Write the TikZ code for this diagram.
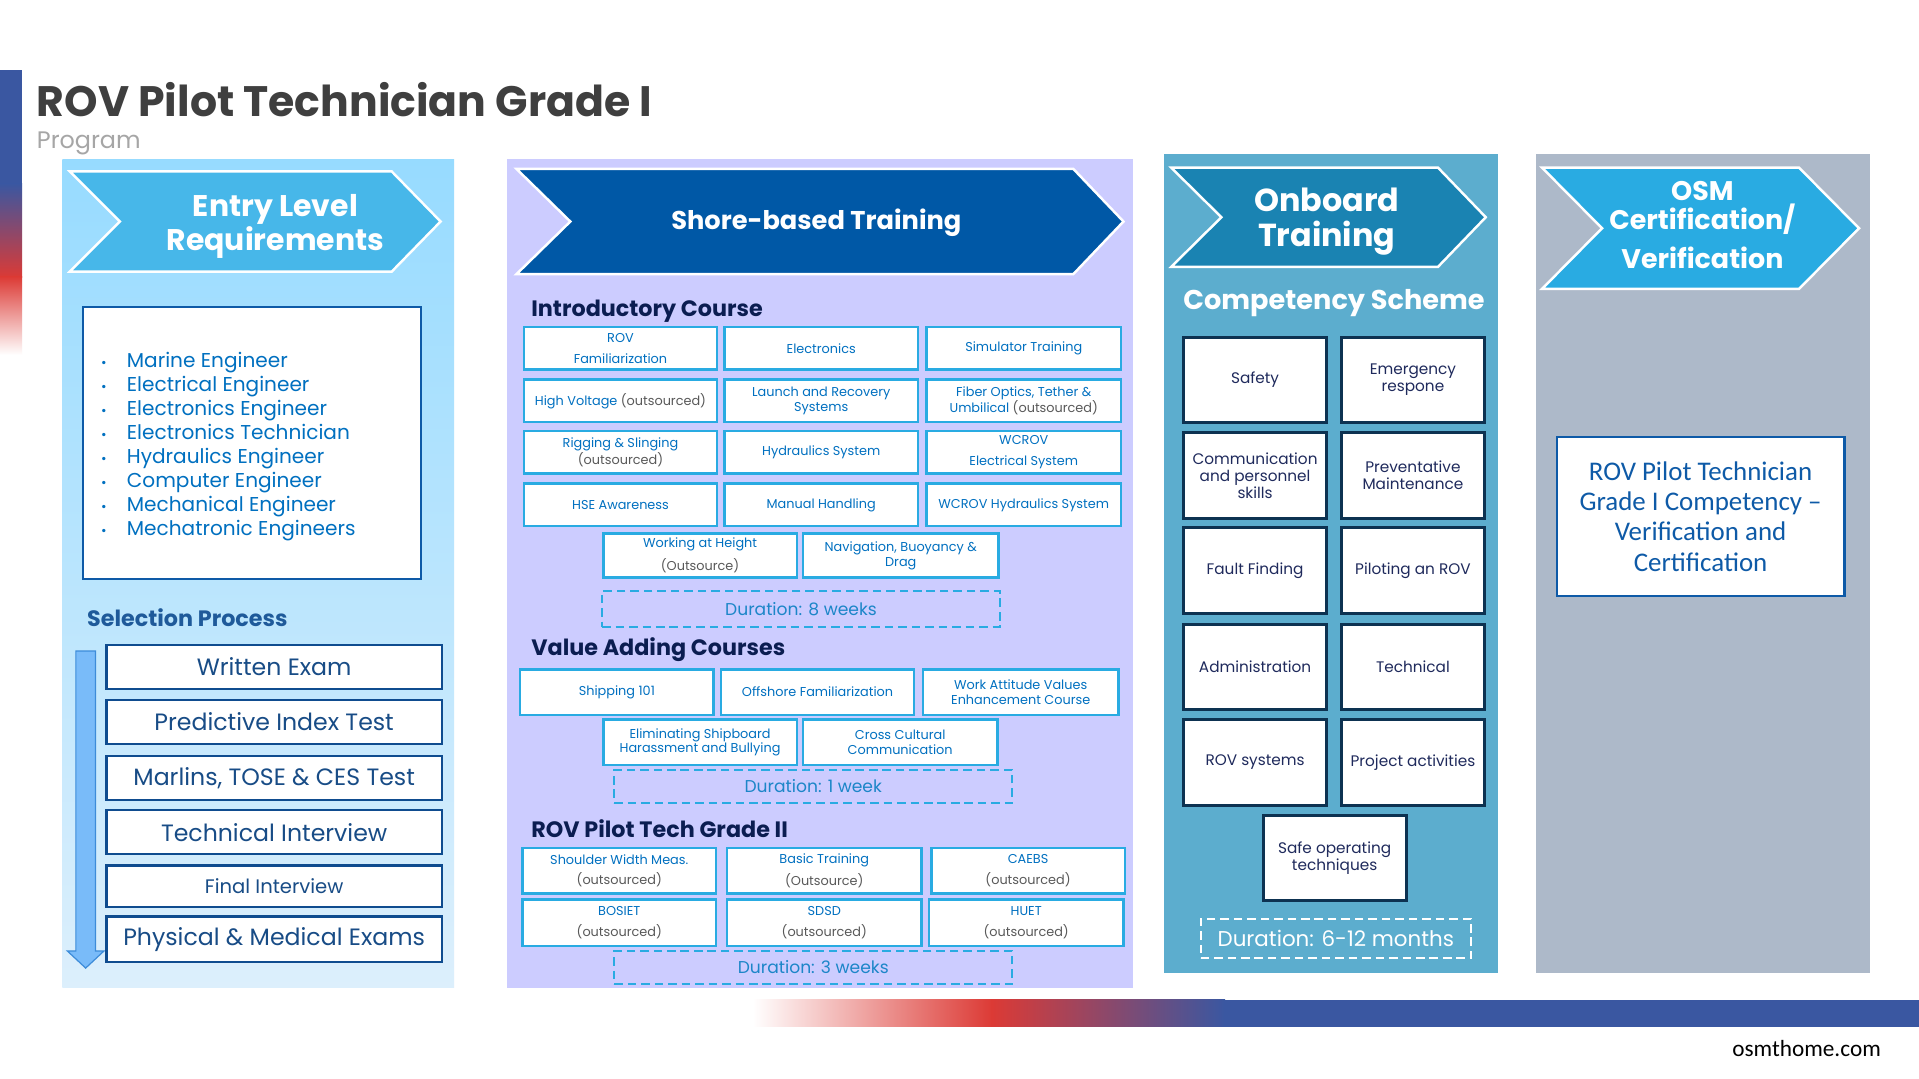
\documentclass[tikz,border=0pt]{standalone}
\usepackage{fontspec}
\setmainfont{Poppins}
\newfontfamily\calib{Carlito}
\definecolor{stripeblue}{HTML}{3A57A1}
\definecolor{stripered}{HTML}{DC3A35}
\definecolor{titlec}{HTML}{3F3F3F}
\definecolor{progc}{HTML}{A6A6A6}
\definecolor{ponetop}{HTML}{97DBFF}
\definecolor{ponebot}{HTML}{DCEFFC}
\definecolor{cone}{HTML}{47B7E9}
\definecolor{ptwo}{HTML}{CCCCFF}
\definecolor{ctwo}{HTML}{0058A6}
\definecolor{pthree}{HTML}{5CADCE}
\definecolor{cthree}{HTML}{1A83B2}
\definecolor{pfour}{HTML}{ADB9C9}
\definecolor{cfour}{HTML}{29ABE2}
\definecolor{sbord}{HTML}{29ABE2}
\definecolor{stext}{HTML}{0070C0}
\definecolor{sgray}{HTML}{595959}
\definecolor{durtext}{HTML}{1C86C8}
\definecolor{headc}{HTML}{0B1D51}
\definecolor{cbord}{HTML}{0D3251}
\definecolor{ctext}{HTML}{1F2A5C}
\definecolor{selbord}{HTML}{0F4C8F}
\definecolor{seltext}{HTML}{184C86}
\definecolor{entbord}{HTML}{0E5AA7}
\definecolor{listc}{HTML}{0070C0}
\definecolor{selhead}{HTML}{1F5A9A}
\definecolor{arrfill}{HTML}{79BBF9}
\definecolor{arrbord}{HTML}{3D8CD9}
\newcommand\myfs[2]{\fontsize{#1}{#2}\selectfont}
\newcommand\gr[1]{{\color{sgray}#1}}
\begin{document}
\begin{tikzpicture}[x=1pt,y=-1pt,
  sbox/.style={draw=sbord,line width=2pt,fill=white,text=stext,font=\myfs{10.5}{12},align=center,inner sep=0pt,minimum width=158pt,minimum height=35pt},
  dbox/.style={draw=sbord,line width=1.8pt,dash pattern=on 7pt off 4pt,align=center,inner sep=0pt,text=durtext,font=\myfs{14}{16}},
  cbox/.style={draw=cbord,line width=2.5pt,fill=white,text=ctext,font=\myfs{12.5}{14},align=center,inner sep=0pt,minimum width=117pt,minimum height=70pt},
  selbox/.style={draw=selbord,line width=2pt,fill=white,text=seltext,font=\myfs{19.3}{22},inner sep=0pt,minimum width=274pt,minimum height=36pt},
  chev/.style={draw=white,line width=2pt},
  head/.style={anchor=west,text=headc,font=\bfseries\myfs{18.2}{22},inner sep=0pt},
  ctitle/.style={text=white,font=\bfseries\myfs{24.4}{28},align=center,inner sep=0pt},
]
\useasboundingbox (0,0) rectangle (1568,881.6);
\fill[white] (0,0) rectangle (1568,881.6);

% left stripe
\fill[stripeblue] (0,57) rectangle (18,151);
\shade[top color=stripeblue,bottom color=stripered] (0,150) rectangle (18,227);
\shade[top color=stripered,bottom color=white] (0,226) rectangle (18,290);

% bottom bar
\shade[left color=white,right color=stripered] (615,817) rectangle (811,839);
\shade[left color=stripered,right color=stripeblue] (810,817) rectangle (1001,839);
\fill[stripeblue] (1000,817) rectangle (1568,839);

% title
\node[anchor=base west,inner sep=0pt,text=titlec,font=\bfseries\myfs{34.8}{40}] (title) at (30,95) {ROV Pilot Technician Grade I};
\node[anchor=base west,inner sep=0pt,text=progc,font=\myfs{19.5}{22}] (prog) at (30,121) {Program};
\node[anchor=base east,inner sep=0pt,text=black,font=\calib\myfs{19}{22}] (web) at (1537,863) {osmthome.com};

% ---------------- column 1
\shade[top color=ponetop,bottom color=ponebot] (51,130) rectangle (371,807);
\filldraw[fill=cone,chev] (57,140) -- (320,140) -- (360,181) -- (320,222) -- (57,222) -- (98,181) -- cycle;
\node[ctitle] (c1t) at (225,185) {Entry Level\\Requirements};
\node[draw=entbord,line width=2pt,fill=white,minimum width=276pt,minimum height=222pt,inner sep=0pt] (entry) at (206,362) {};
\node[anchor=west,inner sep=0pt,text=listc,font=\myfs{16.4}{19.7}] (list) at (82.5,365) {\begin{tabular}{@{}l@{\hspace{16.5pt}}l@{}}
{\myfs{11}{19.7}•} & Marine Engineer\\
{\myfs{11}{19.7}•} & Electrical Engineer\\
{\myfs{11}{19.7}•} & Electronics Engineer\\
{\myfs{11}{19.7}•} & Electronics Technician\\
{\myfs{11}{19.7}•} & Hydraulics Engineer\\
{\myfs{11}{19.7}•} & Computer Engineer\\
{\myfs{11}{19.7}•} & Mechanical Engineer\\
{\myfs{11}{19.7}•} & Mechatronic Engineers
\end{tabular}};
\node[anchor=west,inner sep=0pt,text=selhead,font=\bfseries\myfs{18.2}{20}] (selh) at (71,505) {Selection Process};
\filldraw[fill=arrfill,draw=arrbord,line width=1pt] (62,532) -- (78,532) -- (78,777) -- (85,777) -- (70,791) -- (55,777) -- (62,777) -- cycle;
\node[selbox] (s1) at (224,545) {Written Exam};
\node[selbox] (s2) at (224,590) {Predictive Index Test};
\node[selbox] (s3) at (224,635.5) {Marlins, TOSE \& CES Test};
\node[selbox] (s4) at (224,680) {Technical Interview};
\node[selbox,minimum height=34pt,font=\myfs{16}{18}] (s5) at (224,724) {Final Interview};
\node[selbox,minimum height=37pt] (s6) at (224,767.5) {Physical \& Medical Exams};

% ---------------- column 2
\fill[ptwo] (414,130) rectangle (926,807);
\filldraw[fill=ctwo,chev] (422,138) -- (877,138) -- (918,181) -- (877,224) -- (422,224) -- (466,181) -- cycle;
\node[ctitle,font=\bfseries\myfs{21}{24}] (c2t) at (667,182) {Shore-based Training};

\node[head] (h1) at (434,254) {Introductory Course};
\node[sbox] (i11) at (507,284.5) {ROV\\[5pt]Familiarization};
\node[sbox] (i12) at (671,284.5) {Electronics};
\node[sbox,minimum width=159pt] (i13) at (836.5,284.5) {Simulator Training};
\node[sbox] (i21) at (507,327.5) {High Voltage \gr{(outsourced)}};
\node[sbox] (i22) at (671,327.5) {Launch and Recovery\\Systems};
\node[sbox,minimum width=159pt] (i23) at (836.5,327.5) {Fiber Optics, Tether \&\\Umbilical \gr{(outsourced)}};
\node[sbox] (i31) at (507,369.5) {Rigging \& Slinging\\\gr{(outsourced)}};
\node[sbox] (i32) at (671,369.5) {Hydraulics System};
\node[sbox,minimum width=159pt] (i33) at (836.5,369.5) {WCROV\\[5pt]Electrical System};
\node[sbox] (i41) at (507,412.5) {HSE Awareness};
\node[sbox] (i42) at (671,412.5) {Manual Handling};
\node[sbox,minimum width=159pt] (i43) at (836.5,412.5) {WCROV Hydraulics System};
\node[sbox,minimum height=36pt] (i51) at (572,454) {Working at Height\\[5pt]\gr{(Outsource)}};
\node[sbox,minimum height=36pt,minimum width=160pt] (i52) at (736,454) {Navigation, Buoyancy \&\\Drag};
\node[dbox,minimum width=325pt,minimum height=29pt] (d1) at (654.5,497.5) {Duration: 8 weeks};

\node[head] (h2) at (434,531) {Value Adding Courses};
\node[sbox,minimum height=37pt] (v11) at (504,565.5) {Shipping 101};
\node[sbox,minimum height=37pt] (v12) at (668,565.5) {Offshore Familiarization};
\node[sbox,minimum height=37pt,minimum width=160pt] (v13) at (834,565.5) {Work Attitude Values\\Enhancement Course};
\node[sbox,minimum height=37pt] (v21) at (572,606.5) {Eliminating Shipboard\\Harassment and Bullying};
\node[sbox,minimum height=37pt,minimum width=159pt] (v22) at (735.5,606.5) {Cross Cultural\\Communication};
\node[dbox,minimum width=325pt,minimum height=27pt] (d2) at (664.5,642.5) {Duration: 1 week};

\node[head] (h3) at (434,677) {ROV Pilot Tech Grade II};
\node[sbox,minimum height=37pt] (g11) at (506,711.5) {Shoulder Width Meas.\\[5pt]\gr{(outsourced)}};
\node[sbox,minimum height=37pt,minimum width=159pt] (g12) at (673.5,711.5) {Basic Training\\[5pt]\gr{(Outsource)}};
\node[sbox,minimum height=37pt] (g13) at (840,711.5) {CAEBS\\[5pt]\gr{(outsourced)}};
\node[sbox,minimum height=38pt] (g21) at (506,754) {BOSIET\\[5pt]\gr{(outsourced)}};
\node[sbox,minimum height=38pt,minimum width=159pt] (g22) at (673.5,754) {SDSD\\[5pt]\gr{(outsourced)}};
\node[sbox,minimum height=38pt,minimum width=159pt] (g23) at (838.5,754) {HUET\\[5pt]\gr{(outsourced)}};
\node[dbox,minimum width=325pt,minimum height=27pt] (d3) at (664.5,790.5) {Duration: 3 weeks};

% ---------------- column 3
\fill[pthree] (951,126) rectangle (1224,795);
\filldraw[fill=cthree,chev] (957,137) -- (1175,137) -- (1214,177.5) -- (1175,218) -- (957,218) -- (998,177.5) -- cycle;
\node[ctitle,font=\bfseries\myfs{26}{28}] (c3t) at (1084,181) {Onboard\\Training};
\node[inner sep=0pt,text=white,font=\bfseries\myfs{22.2}{26}] (comp) at (1090,248) {Competency Scheme};
\node[cbox] (k11) at (1025.5,310.5) {Safety};
\node[cbox] (k12) at (1154.5,310.5) {Emergency\\respone};
\node[cbox,minimum height=71pt] (k21) at (1025.5,388.5) {Communication\\and personnel\\skills};
\node[cbox,minimum height=71pt] (k22) at (1154.5,388.5) {Preventative\\Maintenance};
\node[cbox] (k31) at (1025.5,466) {Fault Finding};
\node[cbox] (k32) at (1154.5,466) {Piloting an ROV};
\node[cbox] (k41) at (1025.5,545) {Administration};
\node[cbox] (k42) at (1154.5,545) {Technical};
\node[cbox] (k51) at (1025.5,623) {ROV systems};
\node[cbox] (k52) at (1154.5,623) {Project activities};
\node[cbox] (k61) at (1090.5,701) {Safe operating\\techniques};
\node[dbox,draw=white,text=white,minimum width=221pt,minimum height=32pt,font=\myfs{17.5}{20}] (d4) at (1091.5,767) {Duration: 6-12 months};

% ---------------- column 4
\fill[pfour] (1255,126) rectangle (1528,795);
\filldraw[fill=cfour,chev] (1260,137) -- (1470,137) -- (1519,186.5) -- (1470,236) -- (1260,236) -- (1309,186.5) -- cycle;
\node[ctitle,font=\bfseries\myfs{22}{24}] (c4t) at (1391,184) {OSM\\Certification/\\[8pt]Verification};
\node[draw=entbord,line width=2pt,fill=white,minimum width=235pt,minimum height=130pt,inner sep=0pt,text=entbord,font=\calib\myfs{22}{24.7},align=center] (verif) at (1389.5,422) {ROV Pilot Technician\\Grade I Competency –\\Verification and\\Certification};
\end{tikzpicture}
\end{document}
